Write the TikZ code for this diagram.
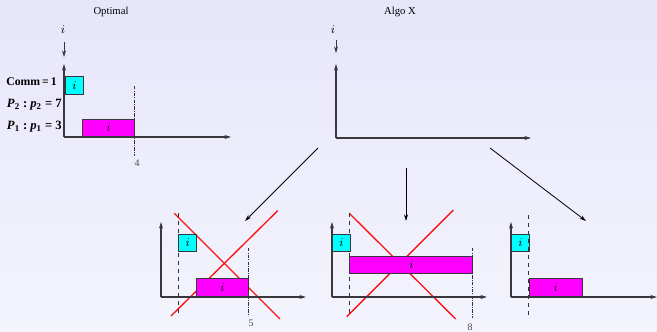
\documentclass[tikz,border=0pt]{standalone}
\usepackage{amsmath}
\usepackage{fontspec}
\setmainfont{Liberation Serif}
\usetikzlibrary{arrows.meta}

\definecolor{fondoA}{RGB}{230,230,250}
\definecolor{fondoB}{RGB}{244,244,253}
\definecolor{eje}{RGB}{55,55,60}
\definecolor{cianT}{RGB}{0,255,255}
\definecolor{magT}{RGB}{255,0,255}
\definecolor{rojoT}{RGB}{250,20,20}

\newcommand{\ital}[1]{\textit{#1}}

\tikzset{
    ejes/.style={eje, line width=0.8pt, ->},
    tarea/.style={draw=eje, line width=0.8pt, inner sep=0pt,
        anchor=south west, font=\small},
    cian/.style={tarea, fill=cianT, minimum width=13.3pt, minimum height=13.3pt},
    limite/.style={black!80, dash pattern=on 2.5pt off 1pt on 0.6pt off 1pt, line width=0.5pt},
    inicio/.style={black!80, dashed, line width=0.6pt},
    cruz/.style={rojoT, line width=1pt},
    valor/.style={font=\fontsize{7.5}{8}\selectfont, black!70},
    titulo/.style={font=\fontsize{8}{9}\selectfont}
}

\begin{document}
\begin{tikzpicture}[x=0.75pt, y=-0.75pt,
    >={Stealth[length=5pt, width=3pt]}]

    % Fondo
    \shade[top color=fondoA, bottom color=fondoB] (0,0) rectangle (657,332);
    \useasboundingbox (0,0) rectangle (657,332);

    % ---- Optimal ----
    \node[titulo] (tOpt) at (111,12) {Optimal};
    \node (iOpt) at (63,30) {\small $i$};
    \coordinate (aOpt) at (64,57);
    \draw[->, eje, line width=0.6pt] (iOpt.south) ++(1,3) -- (aOpt);
    \coordinate (o1) at (64,137);
    \draw[ejes] (o1) -- (64,64);
    \draw[ejes] (o1) -- (231,137);
    \node[cian] (c1) at (65,95) {$i$};
    \node[tarea, fill=magT, minimum width=39pt, minimum height=12.8pt] (m1) at (82,137) {$i$};
    \draw[limite] (134,86) -- (134,156);
    \node[valor] (v4) at (137,163) {4};
    \begin{scope}[font=\fontsize{9.5}{10}\selectfont\bfseries, inner sep=0pt]
        \node[anchor=east, font=\fontsize{8.8}{10}\selectfont\bfseries] (comm) at (57,82)  {Comm\,=\,1};
        \node[anchor=east] (pdos) at (62,105) {\ital{P}\textsubscript{2}\ :\ \ital{p}\textsubscript{2}\ =\ 7};
        \node[anchor=east] (puno) at (62,127) {\ital{P}\textsubscript{1}\ :\ \ital{p}\textsubscript{1}\ =\ 3};
    \end{scope}

    % ---- Algo X ----
    \node[titulo] (tAlg) at (400,12) {Algo X};
    \node (iAlg) at (333,30) {\small $i$};
    \coordinate (aAlg) at (336,53);
    \draw[->, eje, line width=0.6pt] (iAlg.south) ++(3,1) -- (aAlg);
    \coordinate (o2) at (336,138);
    \draw[ejes] (o2) -- (336,64);
    \draw[ejes] (o2) -- (531,138);

    % Ramas
    \coordinate (sIzq) at (318,148);
    \coordinate (sCen) at (406,168);
    \coordinate (sDer) at (490,148);
    \coordinate (fIzq) at (245,221);
    \coordinate (fCen) at (406,221);
    \coordinate (fDer) at (586,221);
    \draw[->, black, line width=0.6pt] (sIzq) -- (fIzq);
    \draw[->, black, line width=0.6pt] (sCen) -- (fCen);
    \draw[->, black, line width=0.6pt] (sDer) -- (fDer);

    % ---- Caso 1 ----
    \coordinate (o3) at (161,297);
    \draw[cruz] (174.3,213.3) -- (280,319);
    \draw[cruz] (171,316) -- (277.7,210.7);
    \draw[ejes] (o3) -- (161,222);
    \draw[ejes] (o3) -- (306,297);
    \draw[inicio] (178.3,213) -- (178.3,315);
    \node[cian] (c3) at (178.3,252.3) {$i$};
    \node[tarea, fill=magT, minimum width=39pt, minimum height=13.3pt] (m3) at (196,297) {$i$};
    \draw[limite] (248.3,248) -- (248.3,316);
    \node[valor] (v5) at (251,323) {5};

    % ---- Caso 2 ----
    \coordinate (o4) at (332,297);
    \draw[cruz] (349.3,213.3) -- (455.7,319);
    \draw[cruz] (346.7,316.7) -- (453.3,210);
    \draw[ejes] (o4) -- (332,222);
    \draw[ejes] (o4) -- (487,297);
    \draw[inicio] (349.3,213) -- (349.3,316);
    \node[cian] (c4) at (332,252.3) {$i$};
    \node[tarea, fill=magT, minimum width=92.3pt, minimum height=13pt] (m4) at (349.3,274) {$i$};
    \draw[limite] (472.3,248) -- (472.3,318);
    \node[valor] (v8) at (470,327) {8};

    % ---- Caso 3 ----
    \coordinate (o5) at (511,297);
    \draw[ejes] (o5) -- (511,222);
    \draw[ejes] (o5) -- (657,297);
    \node[cian] (c5) at (511,252.3) {$i$};
    \node[tarea, fill=magT, minimum width=39.8pt, minimum height=13.3pt] (m5) at (528.7,297) {$i$};
    \draw[inicio] (528.7,215) -- (528.7,318);
\end{tikzpicture}
\end{document}
